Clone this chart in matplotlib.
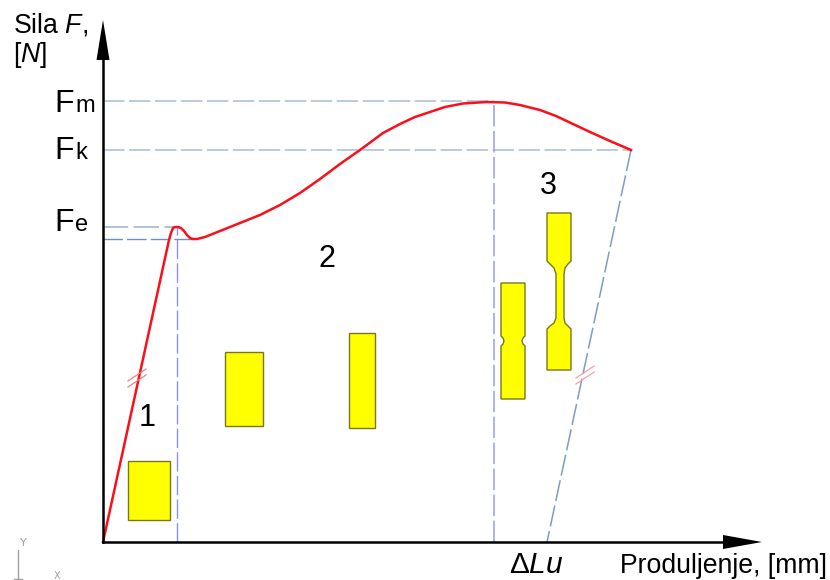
import matplotlib.pyplot as plt
from matplotlib.patches import Polygon

plt.rcParams['font.family'] = ['Liberation Sans', 'DejaVu Sans']
plt.rcParams['mathtext.fontset'] = 'custom'
plt.rcParams['mathtext.rm'] = 'Liberation Sans'
plt.rcParams['mathtext.it'] = 'Liberation Sans:italic'
plt.rcParams['mathtext.default'] = 'regular'

# elongation / force (origin at the axis corner)
curve_x = [0, 66, 68, 70, 72, 75, 78, 81, 84, 87, 90, 94, 102, 117, 137, 157, 177, 197, 217, 237, 257, 280, 297, 312, 327, 342, 360, 384, 402, 417, 437, 453, 470, 487, 507, 528]
curve_y = [0, 302, 309, 314, 315, 315, 314, 311, 307, 304, 303, 303, 305, 311, 319, 327, 337, 349, 363, 378, 392, 409, 418, 425, 430, 435, 438.5, 440, 439.5, 437, 432, 426, 418, 410, 401, 392]
unload_x = [528, 444]
unload_y = [392, 0]

fm, fk, fe, fl = 441, 392, 315, 303
x_fe, x_fl, x_fm, x_fk = 74, 92, 391, 528

spec1_x = [25, 67, 67, 25]
spec1_y = [22, 22, 81, 81]
spec2_x = [122, 160, 160, 122]
spec2_y = [116, 116, 190, 190]
spec3_x = [246, 272, 272, 246]
spec3_y = [114, 114, 209, 209]
spec4_x = [398, 422, 422, 420, 419, 420, 422, 422, 398, 398, 400, 401, 400, 398]
spec4_y = [143, 143, 196, 198, 201, 204, 206, 259, 259, 206, 204, 201, 198, 196]
spec5_x = [444, 468, 468, 465, 462, 461, 461, 462, 465, 468, 468, 444, 444, 447, 451, 453, 453, 451, 447, 444]
spec5_y = [172, 172, 213, 216, 219, 224, 268, 274, 278, 281, 329, 329, 281, 278, 274, 268, 224, 219, 216, 213]

fig = plt.figure(figsize=(8.3, 5.8), dpi=100)
ax = fig.add_axes([0, 0, 1, 1])
ax.set_xlim(-103, 727)
ax.set_ylim(-38, 542)
ax.axis('off')

dash = (0, (14, 3))
grey_blue = '#a9bcd6'
ax.plot([0, x_fm], [fm, fm], color=grey_blue, lw=1.1, linestyle=dash)
ax.plot([0, x_fk], [fk, fk], color=grey_blue, lw=1.1, linestyle=dash)
ax.plot([0, x_fe], [fe, fe], color=grey_blue, lw=1.3, linestyle=dash)
ax.plot([0, x_fl], [fl, fl], color='#6f8fbd', lw=1.0, linestyle=dash)
ax.plot([x_fe, x_fe], [0, fe], color='#8f8ff0', lw=1.0, linestyle=dash)
ax.plot([x_fm, x_fm], [0, fm], color='#9a9af0', lw=1.1, linestyle=dash)
ax.plot(unload_x, unload_y, color='#7f9cc4', lw=1.1, linestyle=dash)

ax.plot(curve_x, curve_y, color='#fa0f1a', lw=1.8, solid_joinstyle='round')

# little break marks on the straight parts
for x0, y0, color in [(34, 164, '#f08080'), (482, 167, '#f4a0a0')]:
    for off in (-3, 3):
        ax.plot([x0 - 9, x0 + 9], [y0 - 6 + off, y0 + 6 + off], color=color, lw=0.9)

for xs, ys in [(spec1_x, spec1_y), (spec2_x, spec2_y), (spec3_x, spec3_y), (spec4_x, spec4_y), (spec5_x, spec5_y)]:
    ax.add_patch(Polygon(list(zip(xs, ys)), closed=True, facecolor='#ffff00', edgecolor='#77771f', lw=1.0))

# axes with filled arrows
ax.plot([0, 0], [0, 490], color='black', lw=1.8)
ax.plot([0, 630], [0, 0], color='black', lw=1.8)
ax.add_patch(Polygon([(0, 522), (-6.5, 482), (6.5, 482)], closed=True, color='black', lw=0))
ax.add_patch(Polygon([(659, 0), (620, 7), (620, -7)], closed=True, color='black', lw=0))

ax.text(-90, 517, 'Sila $\\mathit{F}$,', fontsize=19.2, ha='left', va='center')
ax.text(-90, 487, '[$\\mathit{N}$]', fontsize=19.2, ha='left', va='center')
ax.text(517, -31, 'Produljenje, [mm]', fontsize=19.2, ha='left', va='baseline')
ax.text(406, -31, '$\\Delta\\mathit{Lu}$', fontsize=21.5, ha='left', va='baseline')

for base, sub, y in [('F', 'm', 430), ('F', 'k', 383), ('F', 'e', 311)]:
    ax.text(-49, y, base, fontsize=23, ha='left', va='baseline')
    ax.text(-28, y, sub, fontsize=17, ha='left', va='baseline')

ax.text(44, 124, '1', fontsize=22, ha='center', va='center')
ax.text(224, 283, '2', fontsize=22, ha='center', va='center')
ax.text(445, 356, '3', fontsize=22, ha='center', va='center')

# UCS icon in the corner
ax.plot([-85, -85], [-36, -8], color='#a0a0a0', lw=1.0)
ax.plot([-89, -81], [-37, -37], color='#a0a0a0', lw=1.0)
ax.text(-80, -1, 'Y', fontsize=8, color='#a0a0a0', ha='center', va='center', family=['DejaVu Sans'])
ax.text(-46, -34, 'X', fontsize=7, color='#a0a0a0', ha='center', va='center', family=['DejaVu Sans'])

fig.savefig('out.png', dpi=100, facecolor='white')
